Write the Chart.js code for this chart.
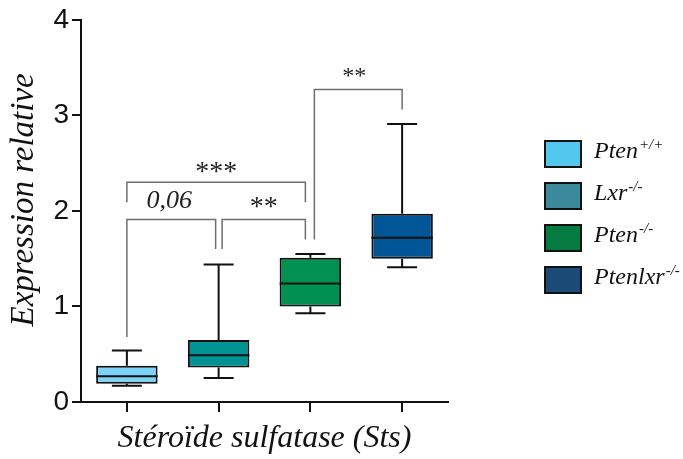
<!DOCTYPE html>
<html>
<head>
<meta charset="utf-8">
<script src="https://cdn.jsdelivr.net/npm/chart.js@4"></script>
<style>
  html, body { margin: 0; padding: 0; background: #fff; }
  #wrap { width: 683px; height: 459px; }
</style>
</head>
<body>
<div id="wrap"><canvas id="stsChart"></canvas></div>
<script>
// groups
const groups = ['Pten', 'Lxr', 'Pten', 'Ptenlxr'];
const groupSup = ['+/+', '-/-', '-/-', '-/-'];

// box plot values (relative expression)
const mins = [0.17, 0.25, 0.93, 1.41];
const q1s = [0.19, 0.36, 1.00, 1.50];
const medians = [0.27, 0.49, 1.24, 1.72];
const q3s = [0.38, 0.65, 1.51, 1.97];
const maxs = [0.54, 1.44, 1.55, 2.91];

const yTicks = [0, 1, 2, 3, 4];

// significance brackets: [from, to, top, left end, right end, label]
const brackets = [
  [0, 1, 1.91, 0.68, 1.60, '0,06'],
  [1, 2, 1.91, 1.60, 1.70, '**'],
  [0, 2, 2.30, 2.09, 2.09, '***'],
  [2, 3, 3.27, 1.70, 3.06, '**']
];

const boxColors = ['#7dd3f7', '#009393', '#009150', '#005596'];
const legendColors = ['#52c8ee', '#3b8a9b', '#047b40', '#1a4a75'];

const serif = '"Liberation Serif", "Times New Roman", serif';

// per-bracket pixel nudges for the legs and labels
const legShift = [[0, -3], [3.5, -5], [0, -5], [4, 0]];
const labelShift = [[-2, -11, 'italic 26px'], [0, -4, '28px'], [0, -2, '28px'], [-4, -7, '24px']];

const boxPlot = {
  id: 'boxPlot',
  afterDatasetsDraw(chart) {
    const { ctx, scales: { x, y } } = chart;
    const meta = chart.getDatasetMeta(0);
    ctx.save();
    ctx.strokeStyle = '#111';
    ctx.lineWidth = 2;
    meta.data.forEach((bar, i) => {
      const cx = bar.x;
      const half = bar.width / 2;
      const cap = 15;
      ctx.beginPath();
      ctx.moveTo(cx, y.getPixelForValue(q3s[i]));
      ctx.lineTo(cx, y.getPixelForValue(maxs[i]));
      ctx.moveTo(cx, y.getPixelForValue(q1s[i]));
      ctx.lineTo(cx, y.getPixelForValue(mins[i]));
      ctx.moveTo(cx - cap, y.getPixelForValue(maxs[i]));
      ctx.lineTo(cx + cap, y.getPixelForValue(maxs[i]));
      ctx.moveTo(cx - cap, y.getPixelForValue(mins[i]));
      ctx.lineTo(cx + cap, y.getPixelForValue(mins[i]));
      ctx.moveTo(cx - half, y.getPixelForValue(medians[i]));
      ctx.lineTo(cx + half, y.getPixelForValue(medians[i]));
      ctx.stroke();
    });

    // brackets
    ctx.strokeStyle = '#6e6e6e';
    ctx.lineWidth = 1.5;
    ctx.fillStyle = '#222';
    ctx.textAlign = 'center';
    ctx.textBaseline = 'alphabetic';
    brackets.forEach((b, i) => {
      const xl = x.getPixelForValue(b[0]) + legShift[i][0];
      const xr = x.getPixelForValue(b[1]) + legShift[i][1];
      const yt = y.getPixelForValue(b[2]);
      ctx.beginPath();
      ctx.moveTo(xl, y.getPixelForValue(b[3]));
      ctx.lineTo(xl, yt);
      ctx.lineTo(xr, yt);
      ctx.lineTo(xr, y.getPixelForValue(b[4]));
      ctx.stroke();
      ctx.font = labelShift[i][2] + ' ' + serif;
      ctx.fillText(b[5], (xl + xr) / 2 + labelShift[i][0], yt + labelShift[i][1]);
    });

    // y axis title
    ctx.save();
    ctx.translate(24, (y.top + y.bottom) / 2 - 11);
    ctx.rotate(-Math.PI / 2);
    ctx.font = 'italic 33px ' + serif;
    ctx.fillStyle = '#111';
    ctx.textBaseline = 'middle';
    ctx.fillText('Expression relative', 0, 0);
    ctx.restore();

    // legend
    groups.forEach((g, i) => {
      const top = 141 + i * 42;
      ctx.fillStyle = legendColors[i];
      ctx.fillRect(545, top, 36, 26);
      ctx.strokeStyle = '#111';
      ctx.lineWidth = 2;
      ctx.strokeRect(545, top, 36, 26);
      ctx.fillStyle = '#111';
      ctx.textAlign = 'left';
      ctx.font = 'italic 24px ' + serif;
      ctx.fillText(g, 594, top + 17);
      const w = ctx.measureText(g).width;
      ctx.font = 'italic 15px ' + serif;
      ctx.fillText(groupSup[i], 594 + w + 1, top + 8);
    });
    ctx.restore();
  }
};

new Chart(document.getElementById('stsChart'), {
  type: 'bar',
  data: {
    labels: groups.map((g, i) => g + groupSup[i]),
    datasets: [{
      data: q1s.map((v, i) => [v, q3s[i]]),
      backgroundColor: boxColors,
      borderColor: '#111',
      borderWidth: 2,
      borderSkipped: false,
      barPercentage: 0.67,
      categoryPercentage: 1
    }]
  },
  options: {
    responsive: true,
    maintainAspectRatio: false,
    animation: false,
    layout: { padding: { top: 18, right: 235, bottom: 0, left: 0 } },
    plugins: { legend: { display: false }, tooltip: { enabled: false } },
    scales: {
      x: {
        offset: true,
        grid: { display: true, drawOnChartArea: false, offset: false, color: '#111', lineWidth: 2, tickLength: 10 },
        border: { display: true, color: '#111', width: 2 },
        ticks: { display: false },
        title: {
          display: true,
          text: 'Stéroïde sulfatase (Sts)',
          color: '#111',
          font: { family: serif, size: 32, style: 'italic' },
          padding: { top: 0, bottom: 1 }
        },
        afterFit(scale) { scale.height = 57; }
      },
      y: {
        min: 0,
        max: 4,
        afterBuildTicks(scale) { scale.ticks = yTicks.map(v => ({ value: v })); },
        grid: { display: true, drawOnChartArea: false, color: '#111', lineWidth: 2, tickLength: 9 },
        border: { display: true, color: '#111', width: 2 },
        ticks: {
          color: '#111',
          padding: 3,
          font: { family: '"Liberation Sans", Arial, sans-serif', size: 28 }
        },
        afterFit(scale) { scale.width = 81; }
      }
    }
  },
  plugins: [boxPlot]
});
</script>
</body>
</html>
